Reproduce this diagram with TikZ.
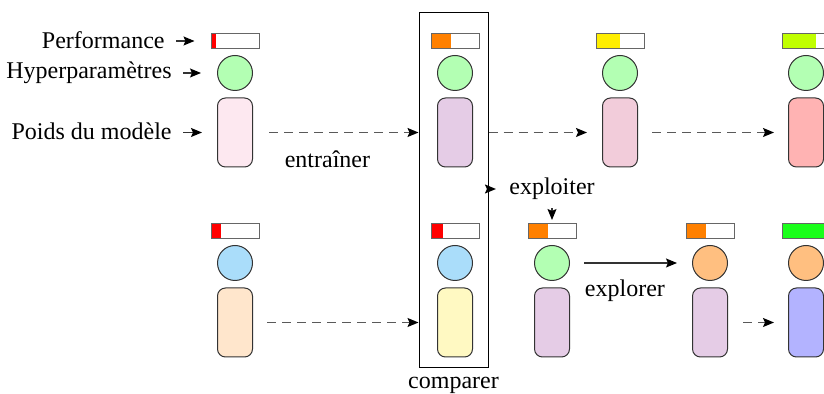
\documentclass[tikz,border=0pt,12pt]{standalone}
\usepackage{fontspec}
\setmainfont{Liberation Serif}
\usetikzlibrary{arrows.meta}

\definecolor{perfred}{RGB}{255,0,0}
\definecolor{perforange}{RGB}{255,128,0}
\definecolor{perfyellow}{RGB}{255,238,0}
\definecolor{perflime}{RGB}{192,255,0}
\definecolor{perfgreen}{RGB}{26,255,26}
\definecolor{hgreen}{RGB}{179,255,179}
\definecolor{hblue}{RGB}{170,221,250}
\definecolor{horange}{RGB}{255,191,128}
\definecolor{wpink}{RGB}{253,232,240}
\definecolor{wlav}{RGB}{229,204,230}
\definecolor{wrose}{RGB}{242,204,218}
\definecolor{wred}{RGB}{255,179,179}
\definecolor{wpeach}{RGB}{255,230,204}
\definecolor{wyellow}{RGB}{255,249,194}
\definecolor{wblue}{RGB}{179,179,255}

\begin{document}
\begin{tikzpicture}[x=0.5pt,y=-0.5pt,
    perf/.style 2 args={draw=black!60, line width=0.5pt, minimum width=24pt, minimum height=7.5pt, inner sep=0,
        path picture={\fill[#1] (path picture bounding box.south west) rectangle ([xshift=#2*24pt]path picture bounding box.north west);}},
    hyper/.style={circle, draw=black!80, line width=0.5pt, minimum size=17.5pt, inner sep=0},
    weights/.style={rectangle, rounded corners=4pt, draw=black!80, line width=0.5pt, minimum width=17.5pt, minimum height=34.5pt, inner sep=0},
    arr/.style={draw=black!80, line width=0.6pt, -{Stealth[length=5.5pt,width=4.5pt,inset=1pt,color=black]}},
    dasharr/.style={arr, draw=black!65, dash pattern=on 4.5pt off 3pt}]
        \path[use as bounding box, clip] (0,0) rectangle (824,394);
        % top row
        \foreach \n/\x/\fr/\pc/\hc/\wc in {1/235/0.1/perfred/hgreen/wpink, 2/455/0.42/perforange/hgreen/wlav,
            3/620/0.5/perfyellow/hgreen/wrose, 4/806/0.7/perflime/hgreen/wred} {
            \node[perf={\pc}{\fr}] (pa\n) at (\x,41) {};
            \node[hyper, fill=\hc] (ha\n) at (\x,73) {};
            \node[weights, fill=\wc] (wa\n) at (\x,132.5) {};
        }
        % bottom row
        \foreach \n/\x/\fr/\pc/\hc/\wc in {1/235/0.2/perfred/hblue/wpeach, 2/455/0.25/perfred/hblue/wyellow,
            3/552/0.42/perforange/hgreen/wlav, 4/710/0.42/perforange/horange/wlav, 5/806/0.9/perfgreen/horange/wblue} {
            \node[perf={\pc}{\fr}] (pb\n) at (\x,231) {};
            \node[hyper, fill=\hc] (hb\n) at (\x,263) {};
            \node[weights, fill=\wc] (wb\n) at (\x,322.5) {};
        }
        % legend
        \node[anchor=base east] (lperf) at (173,49) {Performance};
        \node[anchor=base east] (lhyp) at (180,79) {Hyperparamètres};
        \node[anchor=base east] (lwts) at (180,140) {Poids du modèle};
        \draw[arr, shorten <=1.5pt, shorten >=8pt] (lperf.east |- pa1) -- (pa1);
        \draw[arr, shorten <=1.5pt, shorten >=8pt] (lhyp.east |- ha1) -- (ha1);
        \draw[arr, shorten <=1.5pt, shorten >=7.5pt] (lwts.east |- wa1) -- (wa1);
        % comparer
        \node[draw, line width=0.5pt, minimum width=34.5pt, minimum height=177.5pt, inner sep=0] (cmp) at (453.5,190.5) {};
        \node[below] (lcmp) at (cmp.south) {comparer};
        % top arrows
        \draw[dasharr, shorten <=8pt] (wa1) -- (wa1 -| cmp.west) node[below=5pt, pos=0.45] (ltrain) {entraîner};
        \draw[dasharr, shorten >=7.5pt] (cmp.east |- wa2) -- (wa3);
        \draw[dasharr, shorten <=7pt, shorten >=7pt] (wa3) -- (wa4);
        % bottom arrows
        \draw[dasharr, shorten <=7pt] (wb1) -- (wb1 -| cmp.west);
        \draw[dasharr, shorten <=7.5pt, shorten >=7pt] (wb4) -- (wb5);
        % exploiter / explorer
        \node (lexpl) at (552,189) {exploiter};
        \draw[arr, shorten >=2.5pt] (cmp.east |- lexpl) -- (lexpl.west);
        \draw[arr, shorten >=1.5pt] (lexpl.south) -- (pb3.north);
        \draw[arr, shorten <=7pt, shorten >=7.5pt] (hb3) -- (hb4) node[below=4pt, pos=0.45] (lexplor) {explorer};
    \end{tikzpicture}
\end{document}
